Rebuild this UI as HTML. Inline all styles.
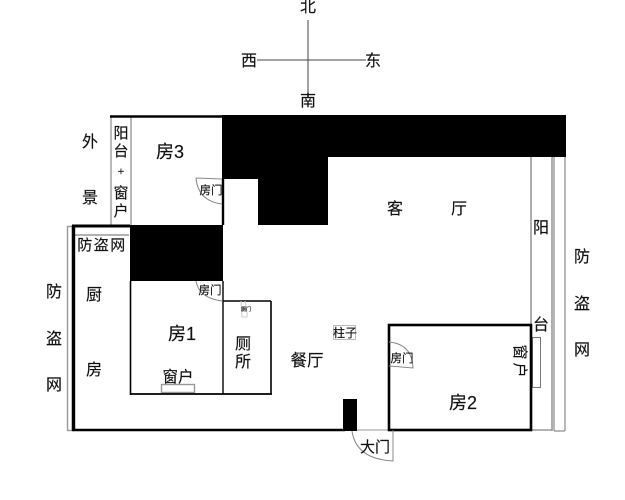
<!DOCTYPE html>
<html><head><meta charset="utf-8">
<style>
html,body{margin:0;padding:0;background:#fff}
svg{display:block}
text{font-family:"Liberation Sans","Noto Sans CJK SC",sans-serif;fill:#111;text-anchor:middle;stroke:#111;stroke-width:.15}
</style></head>
<body>
<svg width="625" height="500" viewBox="0 0 625 500" xmlns="http://www.w3.org/2000/svg">
<!-- compass -->
<line x1="308" y1="20" x2="308" y2="92" stroke="#666" stroke-width="1.2"/>
<line x1="257" y1="60" x2="366" y2="60" stroke="#444" stroke-width="1"/>
<text x="308" y="12" font-size="16">北</text>
<text x="249" y="66" font-size="16">西</text>
<text x="373" y="66" font-size="16">东</text>
<text x="308" y="106" font-size="16">南</text>

<!-- black masses -->
<polygon points="222,115 566,115 566,157 328,157 328,225 258,225 258,179 222,179" fill="#000"/>
<rect x="130" y="225" width="93" height="56" fill="#000"/>

<!-- grey lines -->
<g fill="none" stroke="#999" stroke-width="1.4">
<line x1="111" y1="117" x2="111" y2="225"/>
<line x1="131" y1="117" x2="131" y2="225"/>
<rect x="67.5" y="226.5" width="5" height="204"/>
<line x1="75" y1="235" x2="129" y2="235"/>
<line x1="531" y1="157" x2="531" y2="431" stroke-width="1.6"/>
<line x1="552" y1="157" x2="552" y2="431" stroke-width="1.6"/>
<line x1="554" y1="157" x2="554" y2="431"/>
<line x1="565" y1="157" x2="565" y2="431"/>
<line x1="554" y1="431" x2="565" y2="431"/>
<line x1="532" y1="430" x2="552" y2="430"/>
<line x1="357" y1="430" x2="388" y2="430" stroke-width="1"/>
<rect x="161.5" y="384.5" width="33" height="8"/>
<rect x="532.5" y="337.5" width="8" height="50" stroke="#777" stroke-width="1"/>
<rect x="333.5" y="325.5" width="22" height="14" stroke="#bbb" stroke-width="1"/>
</g>

<!-- walls -->
<g stroke="#000" fill="none">
<line x1="110" y1="116.5" x2="222" y2="116.5" stroke-width="2.4"/>
<line x1="223" y1="179" x2="223" y2="225" stroke-width="2.4"/>
<line x1="72" y1="226" x2="130" y2="226" stroke-width="3"/>
<line x1="73.5" y1="225" x2="73.5" y2="431" stroke-width="3.4"/>
<line x1="72" y1="430" x2="345" y2="430" stroke-width="2.4"/>
<line x1="130.5" y1="281" x2="130.5" y2="395" stroke-width="1.6"/>
<line x1="130" y1="394" x2="272" y2="394" stroke-width="1.8"/>
<line x1="223" y1="281" x2="223" y2="394" stroke-width="1.4"/>
<line x1="223" y1="301" x2="271" y2="301" stroke-width="1.6"/>
<line x1="271" y1="301" x2="271" y2="394" stroke-width="1.6"/>
<rect x="389" y="325" width="142" height="105" stroke-width="2.6"/>
</g>
<rect x="343" y="399" width="14" height="32" fill="#000"/>

<!-- door arcs -->
<g fill="none" stroke="#888" stroke-width="1">
<path d="M196,178 Q198,201 222,204 M196,178 L222,179"/>
<path d="M196,281 Q199,298 222,301"/>
<path d="M389,342 Q412,344 413,368 L389,366"/>
<path d="M352,431 Q356,459 393,461 L393,430"/>
<path d="M245,301 Q248,316 247,317 L242,317 L241,301" stroke="#ccc"/>
</g>

<!-- labels -->
<text x="90" y="147" font-size="16">外</text>
<text x="90" y="203" font-size="16">景</text>
<text x="121" y="138" font-size="15">阳</text>
<text x="121" y="156" font-size="15">台</text>
<text x="121" y="175" font-size="11">+</text>
<text x="121" y="198" font-size="15">窗</text>
<text x="121" y="216" font-size="15">户</text>
<text x="170" y="158" font-size="18">房3</text>
<text x="211" y="194" font-size="11.5">房门</text>
<text x="102" y="250" font-size="15" letter-spacing="1.5">防盗网</text>
<text x="94" y="300" font-size="16">厨</text>
<text x="94" y="375" font-size="16">房</text>
<text x="54" y="297" font-size="16">防</text>
<text x="54" y="344" font-size="16">盗</text>
<text x="54" y="390" font-size="16">网</text>
<text x="210" y="294" font-size="11.5">房门</text>
<text x="182" y="340" font-size="18">房1</text>
<text x="178" y="382" font-size="15.5">窗户</text>
<text x="243" y="349" font-size="16">厕</text>
<text x="243" y="367" font-size="16">所</text>
<text x="246" y="311" font-size="5" fill="#555" stroke="none">厕门</text>
<text x="307" y="366" font-size="16.5">餐厅</text>
<text x="345" y="337" font-size="12">柱子</text>
<text x="395" y="214" font-size="16">客</text>
<text x="459" y="214" font-size="16">厅</text>
<text x="402" y="362" font-size="11.5">房门</text>
<text x="463" y="409" font-size="18">房2</text>
<text x="375" y="452" font-size="15">大门</text>
<text x="541" y="233" font-size="16">阳</text>
<text x="541" y="330" font-size="16">台</text>
<text transform="translate(520,352) rotate(90)" font-size="15" y="0" x="0" dy="5">窗</text>
<text transform="translate(520,370) rotate(90)" font-size="15" y="0" x="0" dy="5">户</text>
<text x="582" y="262" font-size="16">防</text>
<text x="582" y="309" font-size="16">盗</text>
<text x="582" y="355" font-size="16">网</text>
</svg>
</body></html>
